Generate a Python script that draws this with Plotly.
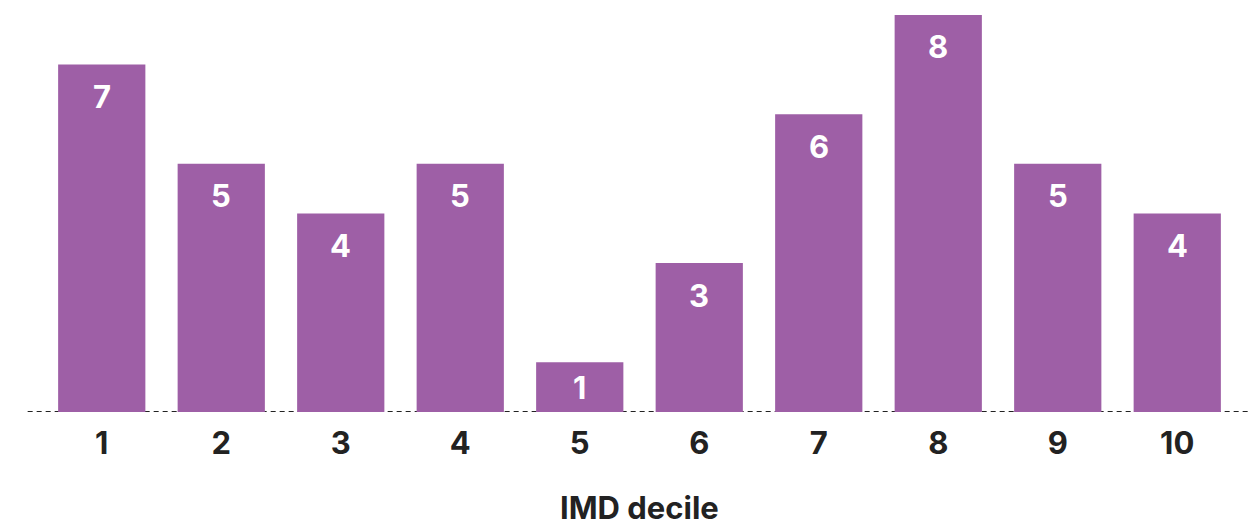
import plotly.graph_objects as go

# IMD decile counts
deciles = ["1", "2", "3", "4", "5", "6", "7", "8", "9", "10"]
counts = [7, 5, 4, 5, 1, 3, 6, 8, 5, 4]
x_title = "IMD decile"

BAR_COLOR = "#9E5FA6"
TEXT_COLOR = "#222222"
FONT = "Inter"

W, H = 1259, 526
M_L, M_R, M_T, M_B = 42, 22, 0, 114
Y_MAX = 8.3
plot_h = H - M_T - M_B
px_per_unit = plot_h / Y_MAX

fig = go.Figure(
    go.Bar(
        x=deciles,
        y=counts,
        marker=dict(color=BAR_COLOR, line=dict(width=0)),
        hoverinfo="skip",
    )
)

# value labels placed just below each bar top (centred in short bars);
# numeric-looking category names are read as indices, so use the index
for i, v in enumerate(counts):
    shift = min(32, v * px_per_unit / 2)
    fig.add_annotation(
        x=i, y=v, yshift=-shift, text=str(v), showarrow=False,
        yanchor="middle", xanchor="center",
        font=dict(family=FONT, size=31, color="white", weight=700),
    )

# axis title, set low beneath the tick labels
fig.add_annotation(
    xref="paper", yref="paper", x=0.5, y=-96 / plot_h, text=x_title,
    showarrow=False, xanchor="center", yanchor="middle",
    font=dict(family=FONT, size=31, color=TEXT_COLOR, weight=700),
)

# dashed baseline
fig.add_shape(
    type="line", xref="paper", yref="y", x0=-0.012, x1=1.011, y0=0, y1=0,
    line=dict(color="#222222", width=2, dash="5px,4px"), layer="below",
)

fig.update_layout(
    width=W, height=H,
    margin=dict(l=M_L, r=M_R, t=M_T, b=M_B),
    plot_bgcolor="white", paper_bgcolor="white",
    bargap=0.27,
    showlegend=False,
    xaxis=dict(
        type="category",
        automargin=False,
        range=[-0.5, len(deciles) - 0.5],
        showgrid=False, zeroline=False, showline=False, ticks="",
        ticklabelstandoff=10,
        tickfont=dict(family=FONT, size=31, color=TEXT_COLOR, weight=700),
    ),
    yaxis=dict(
        range=[0, Y_MAX], showgrid=False, zeroline=False, showline=False,
        showticklabels=False, ticks="", automargin=False,
    ),
)

fig.write_html("out.html")
